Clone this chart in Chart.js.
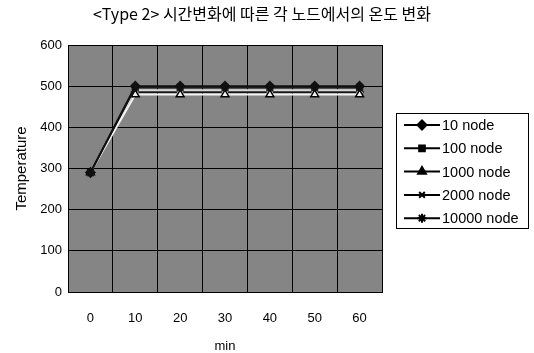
<!DOCTYPE html>
<html>
<head>
<meta charset="utf-8">
<script src="https://cdn.jsdelivr.net/npm/chart.js@4/dist/chart.umd.min.js"></script>
<style>
  html, body { margin: 0; padding: 0; background: #fff; }
  #chart { display: block; }
</style>
</head>
<body>
<canvas id="chart" width="534" height="353"></canvas>
<script>
// Chart data
const minutes = ['0', '10', '20', '30', '40', '50', '60'];
const seriesNames = ['10 node', '100 node', '1000 node', '2000 node', '10000 node'];
const node10 = [290, 500, 500, 500, 500, 500, 500];
const node100 = [290, 497, 497, 497, 497, 497, 497];
const node1000 = [290, 480, 480, 480, 480, 480, 480];
const node2000 = [290, 490, 490, 490, 490, 490, 490];
const node10000 = [290, 486, 486, 486, 486, 486, 486];
const yTicks = [0, 100, 200, 300, 400, 500, 600];

const chartTitle = '<Type 2> 시간변화에 따른 각 노드에서의 온도 변화';
const labelFont = '14.5px "Liberation Sans", Arial, sans-serif';

// Series styles
const styles = [
    { color: '#101010', point: 'rectRot', radius: 4.5 },
    { color: '#202020', point: 'rect', radius: 4 },
    { color: '#f2f2f2', point: 'triangle', radius: 4.5 },
    { color: '#d8d8d8', point: 'crossRot', radius: 4 },
    { color: '#181818', point: 'star', radius: 4.5 }
];
const seriesData = [node10, node100, node1000, node2000, node10000];

// Gray plot area
const plotBackground = {
    id: 'plotBackground',
    beforeDraw(chart) {
        const { ctx, chartArea: a } = chart;
        ctx.save();
        ctx.fillStyle = '#858585';
        ctx.fillRect(a.left, a.top, a.right - a.left, a.bottom - a.top);
        ctx.restore();
    }
};

// Title and boxed legend
const titleAndLegend = {
    id: 'titleAndLegend',
    afterDraw(chart) {
        const ctx = chart.ctx;
        ctx.save();
        ctx.fillStyle = '#000';
        ctx.textBaseline = 'middle';
        ctx.textAlign = 'center';
        ctx.font = '16px "Noto Sans CJK KR", sans-serif';
        ctx.fillText(chartTitle, 262, 14);

        // legend box
        ctx.strokeStyle = '#000';
        ctx.lineWidth = 1;
        ctx.strokeRect(396.5, 113.5, 132, 115);

        ctx.font = labelFont;
        ctx.textAlign = 'left';
        chart.data.datasets.forEach((ds, i) => {
            const y = 125 + i * 23.3;
            ctx.strokeStyle = '#000';
            ctx.fillStyle = '#000';
            ctx.lineWidth = 2;
            ctx.beginPath();
            ctx.moveTo(404, y);
            ctx.lineTo(440, y);
            ctx.stroke();
            Chart.helpers.drawPoint(ctx, {
                pointStyle: styles[i].point,
                radius: styles[i].radius,
                borderWidth: 1.5,
                rotation: 0
            }, 422, y);
            ctx.fillText(ds.label, 442, y + 1);
        });
        ctx.restore();
    }
};

const datasets = seriesNames.map((name, i) => ({
    label: name,
    data: seriesData[i],
    borderColor: styles[i].color,
    backgroundColor: styles[i].color,
    pointBackgroundColor: styles[i].color,
    pointBorderColor: i === 2 ? '#000' : styles[i].color,
    pointStyle: styles[i].point,
    pointRadius: styles[i].radius,
    pointBorderWidth: 1.5,
    borderWidth: 2,
    tension: 0
}));

new Chart(document.getElementById('chart'), {
    type: 'line',
    data: { labels: minutes, datasets: datasets },
    options: {
        responsive: false,
        animation: false,
        layout: { padding: { left: 0, top: 45, right: 152, bottom: 0 } },
        plugins: {
            legend: { display: false },
            title: { display: false },
            tooltip: { enabled: false }
        },
        scales: {
            x: {
                offset: true,
                grid: { offset: true, color: '#000', drawTicks: false },
                border: { color: '#000' },
                ticks: { color: '#000', font: { size: 13, family: '"Liberation Sans", Arial' }, padding: 19 },
                title: { display: true, text: 'min', color: '#000', font: { size: 13, family: '"Liberation Sans", Arial', lineHeight: 1 }, padding: { top: 0, bottom: 0 } },
                afterFit(scale) { scale.height = 61; }
            },
            y: {
                min: 0,
                max: 600,
                afterBuildTicks(scale) { scale.ticks = yTicks.map(v => ({ value: v })); },
                grid: { color: '#000', drawTicks: false },
                border: { color: '#000' },
                ticks: { color: '#000', font: { size: 13, family: '"Liberation Sans", Arial' }, padding: 6 },
                title: { display: true, text: 'Temperature', color: '#000', font: { size: 15, family: '"Liberation Sans", Arial' }, padding: { top: 13, bottom: 0 } },
                afterFit(scale) { scale.width = 68; }
            }
        }
    },
    plugins: [plotBackground, titleAndLegend]
});
</script>
</body>
</html>
